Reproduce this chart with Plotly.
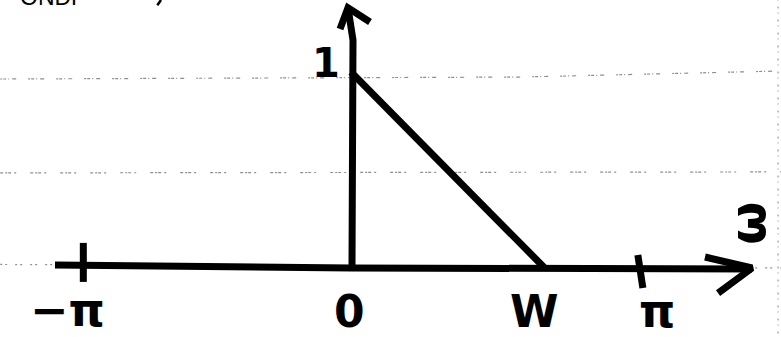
import plotly.graph_objects as go

# Frequency positions of the marked points on the ω axis (sketch units)
omega_ticks = [-2.93, 0.0, 2.12, 3.14]
tick_labels = ["−π", "0", "W", "π"]
W = omega_ticks[2]

# Triangular spectrum: peak of 1 at ω = 0, falling to 0 at ω = W
tri_omega = [0.0, W]
tri_mag = [1.0, 0.0]
peak_label = "1"

INK = "#000000"
RULE = "#8f8f8f"
STROKE = 7

fig = go.Figure()


def stroke(xs, ys, width=STROKE, color=INK, dash=None):
    fig.add_trace(go.Scatter(
        x=xs, y=ys, mode="lines", hoverinfo="skip", showlegend=False,
        line=dict(color=color, width=width, dash=dash),
    ))


# faint ruled lines of the notebook page
stroke([-3.84, 1.85, 4.71], [0.964, 0.974, 1.005], width=1.2, color=RULE, dash="2px,1px,3px,2px,1px,3px,4px,12px")
stroke([-3.84, 4.71], [0.485, 0.490], width=1.2, color=RULE, dash="3px,2px,2px,1px,3px,3px,2px,14px")
stroke([-3.84, 4.71], [0.018, 0.0], width=1.2, color=RULE, dash="2px,3px,2px,8px")
stroke([4.675, 4.675], [-0.36, 1.37], width=1.1, color=RULE, dash="1px,4px,2px,6px")

# horizontal ω axis with arrowhead
stroke([-3.24, 0.0, 4.39], [0.015, 0.0, -0.005])
stroke([3.875, 4.39, 4.018], [0.056, 0.0, -0.128])

# vertical axis with arrowhead
stroke([0.011, 0.022, -0.033], [0.0, 1.163, 1.327])
stroke([-0.120, -0.033, 0.208], [1.219, 1.327, 1.255])

# tick marks at −π and π
stroke([omega_ticks[0], omega_ticks[0]], [0.128, -0.071])
stroke([omega_ticks[3], omega_ticks[3] + 0.055], [0.066, -0.102])

# the triangle
stroke(tri_omega, tri_mag)

# short pen mark near the header
stroke([-2.08, -2.12], [1.367, 1.34], width=2.5)

label_font = dict(family="DejaVu Sans", color=INK, weight="bold")

# tick labels beneath the axis: (x shift, y shift, font size)
shifts = [(-16, -42, 46), (-1, -44, 44), (-10, -44, 44), (19, -43, 46)]
for pos, text, (dx, dy, size) in zip(omega_ticks, tick_labels, shifts):
    fig.add_annotation(x=pos, y=0, text=text, showarrow=False,
                       xshift=dx, yshift=dy,
                       font=dict(size=size, **label_font))

# peak value label
fig.add_annotation(x=tri_omega[0], y=tri_mag[0], text=peak_label, showarrow=False,
                   xshift=-25, yshift=9, font=dict(size=40, **label_font))

# axis name ω, written sideways
fig.add_annotation(x=4.39, y=0, text="ω", showarrow=False, textangle=-90,
                   xshift=-4, yshift=44, font=dict(size=50, **label_font))

# header text running off the top of the page
fig.add_annotation(xref="paper", yref="paper", x=18 / 781, y=1.0, text="ONDP",
                   showarrow=False, xanchor="left", yanchor="bottom", yshift=-12,
                   font=dict(family="Liberation Sans", size=23, color=INK))

fig.update_layout(
    width=781, height=337,
    margin=dict(l=0, r=0, t=0, b=0),
    paper_bgcolor="white", plot_bgcolor="white",
    xaxis=dict(range=[-3.842, 4.707], visible=False, fixedrange=True),
    yaxis=dict(range=[-0.352, 1.367], visible=False, fixedrange=True),
)

fig.write_html("out.html")
